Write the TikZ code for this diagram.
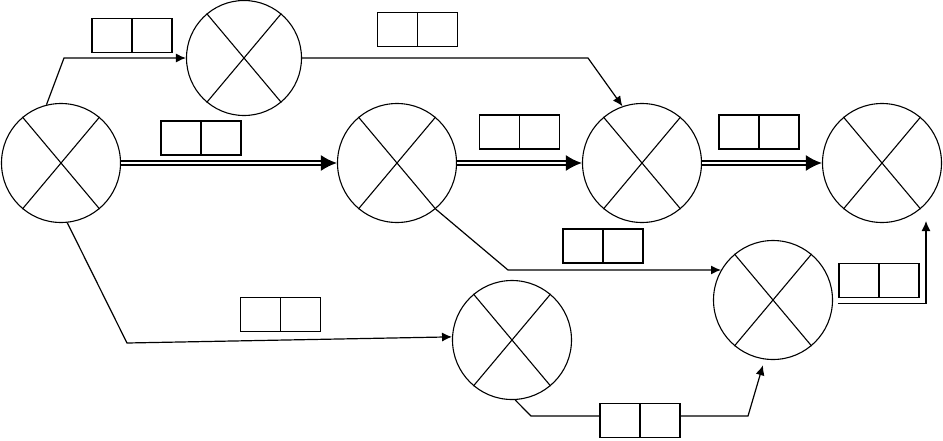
\documentclass[tikz,border=0pt]{standalone}
\usetikzlibrary{calc}
\usetikzlibrary{arrows.meta}

\tikzset{
    event/.style={draw, circle, line width=1.1pt, inner sep=0pt, minimum size=119pt},
    timebox/.style={draw, fill=white, line width=1.3pt, inner sep=0pt,
        minimum width=80pt, minimum height=34pt,
        path picture={\draw[line width=1.3pt] (path picture bounding box.north) -- (path picture bounding box.south);}},
    activity/.style={line width=1.2pt, -{Latex[length=10pt,width=9pt]}},
    critical/.style={double, line width=2pt, double distance=1.7pt, -{Latex[length=16pt,width=16pt]}}
}

\begin{document}
\begin{tikzpicture}[x=1pt, y=-1pt]
    \useasboundingbox (0,0) rectangle (943,440);

    % Events
    \node[event] (a) at (61,163) {};
    \node[event, minimum size=115pt] (b) at (244,58) {};
    \node[event] (c) at (397,163) {};
    \node[event] (d) at (642,163) {};
    \node[event] (e) at (882,163) {};
    \node[event] (f) at (773,300) {};
    \node[event] (g) at (512,340) {};

    % crosses
    \foreach \n in {a,b,c,d,e,f,g} {
        \draw[line width=1.1pt] (\n.130) -- (\n.-50);
        \draw[line width=1.1pt] (\n.50) -- (\n.-130);
    }

    % bend coordinates
    \coordinate (ab) at (64,58);
    \coordinate (bd) at (588,58);
    \coordinate (cf) at (508,270);
    \coordinate (fe) at (926,221);
    \coordinate (ag) at (127,343);
    \coordinate (gf1) at (531,416);
    \coordinate (gf2) at (748,416);

    % Lines
    \draw[activity] (a.104) -- (ab) -- (b.west);
    \draw[activity] (b.east) -- (bd) -- (d.109);
    \draw[critical] (a.east) -- (c.west);
    \draw[critical] (c.east) -- (d.west);
    \draw[critical] (d.east) -- (e.west);
    \draw[activity] (c.-50) -- (cf) -- (f.150);
    \draw[activity, shorten <=5pt] (f.-3) -| (fe);
    \draw[activity] (a.-84) -- (ag) -- (g.177);
    \draw[activity, shorten >=6pt] (g.-87) -- (gf1) -- (gf2) -- (f.-98);

    % Durations
    \node[timebox] (t1) at (132,35.5) {};
    \node[timebox] (t2) at (417.5,29.5) {};
    \node[timebox] (t3) at (201,138) {};
    \node[timebox] (t4) at (519.5,132) {};
    \node[timebox] (t5) at (759,132) {};
    \node[timebox] (t6) at (603,246) {};
    \node[timebox] (t7) at (879,280.5) {};
    \node[timebox] (t8) at (280.5,314.5) {};
    \node[timebox] (t9) at (640,420.5) {};
\end{tikzpicture}
\end{document}
